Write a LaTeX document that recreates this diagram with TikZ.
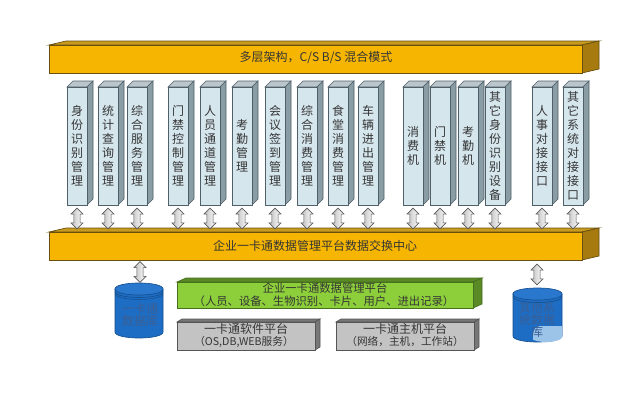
\documentclass[tikz,border=0pt]{standalone}
\usepackage{fontspec}
\newfontfamily\cjk{Noto Sans CJK SC}
\usetikzlibrary{shapes.arrows}
\definecolor{barY}{HTML}{F6B500}
\definecolor{barS}{HTML}{A67A0E}
\definecolor{barT}{HTML}{C89A1E}
\definecolor{barL}{HTML}{6A5010}
\definecolor{colF}{HTML}{D5E6ED}
\definecolor{colS}{HTML}{8A9CA4}
\definecolor{colT}{HTML}{BAC6CB}
\definecolor{colL}{HTML}{50606A}
\definecolor{grnF}{HTML}{8CCF3A}
\definecolor{grnS}{HTML}{5A8A26}
\definecolor{grnL}{HTML}{46701E}
\definecolor{gryF}{HTML}{C3C3C3}
\definecolor{gryS}{HTML}{777777}
\definecolor{gryL}{HTML}{555555}
\definecolor{dbB}{HTML}{1E6DC4}
\definecolor{dbT}{HTML}{2A78CE}
\definecolor{dbL}{HTML}{15508F}
\definecolor{dbTxt}{HTML}{3A5F95}
\definecolor{dbP}{HTML}{9CC3E8}
\definecolor{txt}{HTML}{353535}
\begin{document}
\begin{tikzpicture}[x=0.75pt,y=-0.75pt,
  barfront/.style={fill=barY,draw=barL,line width=0.5pt},
  barside/.style={fill=barS,draw=barL,line width=0.5pt},
  bartop/.style={fill=barT,draw=barL,line width=0.5pt},
  colfront/.style={fill=colF,draw=colL,line width=0.4pt},
  colside/.style={fill=colS,draw=colL,line width=0.4pt},
  coltop/.style={fill=colT,draw=colL,line width=0.4pt},
  coltext/.style={font=\cjk\fontsize{9}{10.5}\selectfont,text=txt,align=center,inner sep=0pt},
  bartext/.style={font=\cjk\fontsize{9}{11}\selectfont,text=txt,inner sep=0pt},
  boxtext/.style={font=\cjk\fontsize{8.5}{10.5}\selectfont,text=txt,align=center,inner sep=0pt},
  dbtext/.style={font=\cjk\fontsize{9}{9.5}\selectfont,text=dbTxt,align=center,inner sep=0pt},
  dbl/.style={double arrow,rotate=90,draw=gray!70!black,line width=0.45pt,
    left color=gray!50,right color=white,
    minimum height=15.5pt,inner sep=2.1pt,double arrow head extend=2.1pt}
]
\useasboundingbox (0,0) rectangle (640,407);
\fill[white] (0,0) rectangle (640,407);

% ---- top bar ----
\filldraw[bartop] (49,45) -- (66,41) -- (599,41) -- (582,45) -- cycle;
\filldraw[barside] (582,45) -- (599,41) -- (599,69) -- (582,73) -- cycle;
\filldraw[barfront] (49,45) rectangle (582,73);
\node[bartext] (topbar) at (316,58) {多层架构，C/S B/S 混合模式};

% ---- lower bar ----
\filldraw[bartop] (49,232) -- (66,228) -- (599,228) -- (582,232) -- cycle;
\filldraw[barside] (582,232) -- (599,228) -- (599,256) -- (582,260) -- cycle;
\filldraw[barfront] (49,232) rectangle (582,260);
\node[bartext] (midbar) at (315,246) {企业一卡通数据管理平台数据交换中心};
\coordinate (lbtop) at (315,231);
\coordinate (lbbot) at (315,261);

% ---- columns ----
\foreach \i/\xl/\t in {
  1/67/{身\\份\\识\\别\\管\\理},
  2/98/{统\\计\\查\\询\\管\\理},
  3/127/{综\\合\\服\\务\\管\\理},
  4/168/{门\\禁\\控\\制\\管\\理},
  5/200/{人\\员\\通\\道\\管\\理},
  6/232/{考\\勤\\管\\理},
  7/265/{会\\议\\签\\到\\管\\理},
  8/297/{综\\合\\消\\费\\管\\理},
  9/328/{食\\堂\\消\\费\\管\\理},
  10/358/{车\\辆\\进\\出\\管\\理},
  11/403/{消\\费\\机},
  12/430/{门\\禁\\机},
  13/458/{考\\勤\\机},
  14/485/{其\\它\\身\\份\\识\\别\\设\\备},
  15/532/{人\\事\\对\\接\\接\\口},
  16/563/{其\\它\\系\\统\\对\\接\\接\\口}}{
  \filldraw[coltop] (\xl,87) -- (\xl+6,81) -- (\xl+26,81) -- (\xl+20,87) -- cycle;
  \filldraw[colside] (\xl+20,87) -- (\xl+26,81) -- (\xl+26,199) -- (\xl+20,205) -- cycle;
  \filldraw[colfront] (\xl,87) rectangle (\xl+20,205);
  \node[coltext] (c\i) at (\xl+10,146) {\t};
  \coordinate (b\i) at (\xl+10,206);
  \path (b\i) -- (b\i |- lbtop) node[midway,dbl] {};
}

% ---- green platform box ----
\filldraw[fill=grnS,draw=grnL,line width=0.5pt] (177,282) -- (186,278) -- (482,278) -- (473,282) -- cycle;
\filldraw[fill=grnS,draw=grnL,line width=0.5pt] (473,282) -- (482,278) -- (482,304) -- (473,308) -- cycle;
\filldraw[fill=grnF,draw=grnL,line width=0.5pt] (177,282) rectangle (473,308);
\node[boxtext] (g1) at (325,288) {企业一卡通数据管理平台};
\node[boxtext] (g2) at (324,301) {（人员、设备、生物识别、卡片、用户、进出记录）};

% ---- grey boxes ----
\filldraw[fill=gryS,draw=gryL,line width=0.5pt] (177,322) -- (182,319) -- (320,319) -- (315,322) -- cycle;
\filldraw[fill=gryS,draw=gryL,line width=0.5pt] (315,322) -- (320,319) -- (320,347) -- (315,350) -- cycle;
\filldraw[fill=gryF,draw=gryL,line width=0.5pt] (177,322) rectangle (315,350);
\node[boxtext,font=\cjk\fontsize{9}{10}\selectfont] (s1) at (246,329) {一卡通软件平台};
\node[boxtext,font=\cjk\fontsize{8}{10}\selectfont] (s2) at (244,342) {（OS,DB,WEB服务）};

\filldraw[fill=gryS,draw=gryL,line width=0.5pt] (336,322) -- (341,319) -- (479,319) -- (474,322) -- cycle;
\filldraw[fill=gryS,draw=gryL,line width=0.5pt] (474,322) -- (479,319) -- (479,347) -- (474,350) -- cycle;
\filldraw[fill=gryF,draw=gryL,line width=0.5pt] (336,322) rectangle (474,350);
\node[boxtext,font=\cjk\fontsize{9}{10}\selectfont] (h1) at (405,329) {一卡通主机平台};
\node[boxtext,font=\cjk\fontsize{8}{10}\selectfont] (h2) at (405,342) {（网络，主机，工作站）};

% ---- left database ----
\filldraw[fill=dbB,draw=dbL,line width=0.5pt] (115,289) -- (115,332) .. controls (115,340) and (163,340) .. (163,332) -- (163,289) -- cycle;
\filldraw[fill=dbT,draw=dbL,line width=0.5pt] (115,289) .. controls (115,281) and (163,281) .. (163,289) .. controls (163,297) and (115,297) .. (115,289) -- cycle;
\draw[dbL,line width=0.5pt] (115,291.5) .. controls (115,299.5) and (163,299.5) .. (163,291.5);
\draw[dbL,line width=0.4pt] (115,293.5) .. controls (115,301.5) and (163,301.5) .. (163,293.5);
\node[dbtext] (db1) at (140,315) {一卡通\\数据库};
\coordinate (db1top) at (140,283);
\path (db1top |- lbbot) -- (db1top) node[midway,dbl] {};

% ---- right database ----
\filldraw[fill=dbB,draw=dbL,line width=0.5pt] (513,294) -- (513,336) .. controls (513,344) and (562,344) .. (562,336) -- (562,294) -- cycle;
\fill[dbP] (562,326) -- (541,326) .. controls (535,326) and (533,330) .. (533,336) -- (533,340) .. controls (545,343.5) and (556,342.5) .. (562,338) -- cycle;
\filldraw[fill=dbT,draw=dbL,line width=0.5pt] (513,294) .. controls (513,286) and (562,286) .. (562,294) .. controls (562,302) and (513,302) .. (513,294) -- cycle;
\draw[dbL,line width=0.5pt] (513,296.5) .. controls (513,304.5) and (562,304.5) .. (562,296.5);
\node[dbtext,font=\cjk\fontsize{9}{9}\selectfont] (db2) at (537,320) {其他系\\统数据\\库};
\coordinate (db2top) at (537,288);
\path (db2top |- lbbot) -- (db2top) node[midway,dbl] {};
\end{tikzpicture}
\end{document}
